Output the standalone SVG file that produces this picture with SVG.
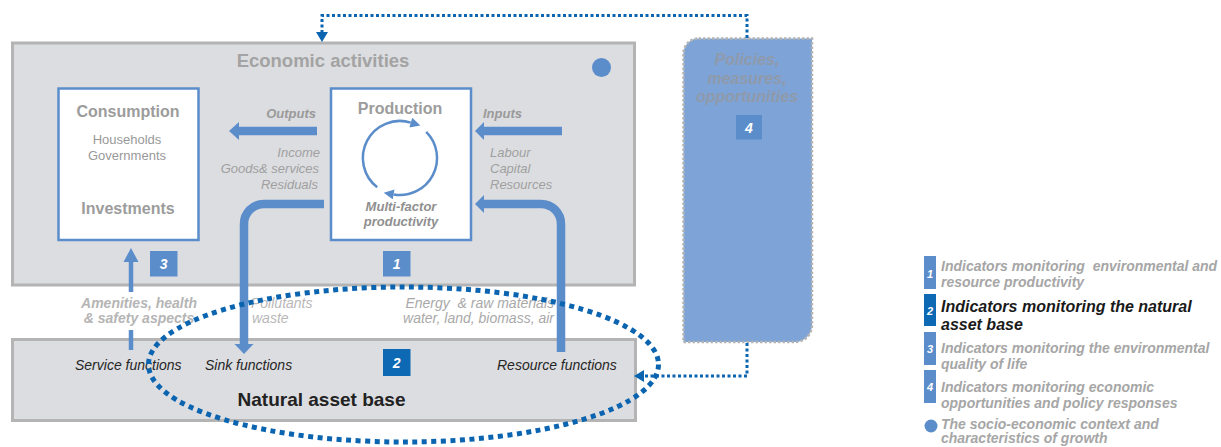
<svg xmlns="http://www.w3.org/2000/svg" width="1221" height="447" viewBox="0 0 1221 447">
<style>
text{font-family:"Liberation Sans",Arial,sans-serif}
.band{fill:#dcdde0;stroke:#b4b4b4;stroke-width:3}
.box{fill:#fff;stroke:#5b8dcb;stroke-width:2.5}
.hd{font-weight:bold;fill:#9c9c9c;font-size:16px;text-anchor:middle}
.sub{fill:#999;font-size:13px;text-anchor:middle}
.lbl{font-style:italic;fill:#a0a0a0;font-size:13px}
.lblb{font-style:italic;font-weight:bold;fill:#9a9a9a;font-size:13px}
.fn{font-style:italic;fill:#262626;font-size:14px}
.num{fill:#5b8dcb}
.numd{fill:#0e69b4}
.nt{fill:#fff;font-weight:bold;font-style:italic;font-size:14px;text-anchor:middle}
.pipe{fill:none;stroke:#5b8dcb;stroke-width:8.5}
.head{fill:#5b8dcb}
.dot{fill:none;stroke:#0b64b0;stroke-width:3;stroke-dasharray:3 2.5}
.cyc{fill:none;stroke:#5b8dcb;stroke-width:2.5}
.leg{font-style:italic;font-weight:bold;fill:#a6a6a6;font-size:14px}
.lt{fill:#fff;font-weight:bold;font-style:italic;font-size:11px;text-anchor:middle}
</style>
<defs>
<marker id="dotArrow" viewBox="0 0 10 12" refX="0" refY="6" markerWidth="10" markerHeight="12" markerUnits="userSpaceOnUse" orient="auto"><path d="M0,0 L10,6 L0,12 Z" fill="#0b64b0"/></marker>
<marker id="cycArrow" viewBox="0 0 10 10" refX="0" refY="5" markerWidth="11" markerHeight="10" markerUnits="userSpaceOnUse" orient="auto"><path d="M0,0 L10,5 L0,10 Z" fill="#5b8dcb"/></marker>
</defs>

<g id="economic-activities">
<rect class="band" x="12.5" y="43" width="622" height="242"/>
<text x="323" y="67" style="font-weight:bold;fill:#a3a3a3;font-size:18.5px;text-anchor:middle">Economic activities</text>
<circle cx="601.5" cy="67.5" r="9.5" fill="#5b8dcb"/>
</g>

<g id="natural-asset-base">
<rect class="band" x="12.5" y="339.5" width="623" height="81"/>
<text class="fn" x="75" y="369.5">Service functions</text>
<text class="fn" x="205" y="369.5">Sink functions</text>
<text class="fn" x="497" y="369.5">Resource functions</text>
<text x="321.5" y="406" style="font-weight:bold;fill:#222;font-size:19px;text-anchor:middle">Natural asset base</text>
</g>

<g id="consumption">
<rect class="box" x="58.5" y="88.5" width="140" height="151.5"/>
<text class="hd" x="128" y="116.5">Consumption</text>
<text class="sub" x="127" y="144">Households</text>
<text class="sub" x="127" y="160">Governments</text>
<text class="hd" x="128" y="214">Investments</text>
</g>

<g id="production">
<rect class="box" x="331" y="88.5" width="140" height="151.5"/>
<text class="hd" x="400" y="114">Production</text>
<path class="cyc" d="M377.2,187.2 A37,37 0 0 1 410.8,122.6" marker-end="url(#cycArrow)"/>
<path class="cyc" d="M426.2,131.8 A37,37 0 0 1 393.6,194.4" marker-end="url(#cycArrow)"/>
<text x="401" y="211" style="font-weight:bold;font-style:italic;fill:#8f8f8f;font-size:13px;text-anchor:middle">Multi-factor</text>
<text x="401" y="225.5" style="font-weight:bold;font-style:italic;fill:#8f8f8f;font-size:13px;text-anchor:middle">productivity</text>
</g>

<g id="policies">
<path d="M698.5,38.5 H812 V325 A17,17 0 0 1 795,342 H683.5 V53.5 A15,15 0 0 1 698.5,38.5 Z" fill="#7ea3d6" stroke="#b3b3b3" stroke-width="2.5" stroke-dasharray="2.5 2"/>
<text x="747" y="65" style="font-weight:bold;font-style:italic;fill:#8f9aab;font-size:16px;text-anchor:middle">Policies,</text>
<text x="747" y="83.5" style="font-weight:bold;font-style:italic;fill:#8f9aab;font-size:16px;text-anchor:middle">measures,</text>
<text x="747" y="102" style="font-weight:bold;font-style:italic;fill:#8f9aab;font-size:16px;text-anchor:middle">opportunities</text>
<rect class="num" x="736" y="115" width="26" height="24.5"/>
<text class="nt" x="749" y="132.5">4</text>
</g>

<g id="badge-1"><rect class="num" x="383" y="251" width="27.5" height="25.5"/><text class="nt" x="396.7" y="268.5">1</text></g>
<g id="badge-2"><rect class="numd" x="383" y="349" width="27.5" height="27"/><text class="nt" x="396.7" y="367.5">2</text></g>
<g id="badge-3"><rect class="num" x="150" y="251" width="27.5" height="25.5"/><text class="nt" x="163.7" y="268.5">3</text></g>

<g id="connectors">
<line class="pipe" x1="317" y1="131" x2="238" y2="131"/>
<polygon class="head" points="239,122 229,131 239,140"/>
<line class="pipe" x1="562" y1="131" x2="484" y2="131"/>
<polygon class="head" points="484,122 475,131 484,140"/>
<path class="pipe" d="M324,204 H264 A20,20 0 0 0 244,224 V345"/>
<polygon class="head" points="234.5,344 253.5,344 244,354"/>
<path class="pipe" d="M561,352 V224 A20,20 0 0 0 541,204 H484"/>
<polygon class="head" points="484,195 475,204 484,213"/>
<path d="M131,350 V330 M131,292 V261" stroke="#5b8dcb" stroke-width="4.5" fill="none"/>
<polygon class="head" points="123.5,262 138.5,262 131,248"/>
<path class="dot" d="M747,38 V15.5 H322 V32" marker-end="url(#dotArrow)"/>
<path class="dot" d="M747,343 V376 H644" marker-end="url(#dotArrow)"/>
</g>

<g id="flow-labels">
<text class="lblb" x="316" y="117.5" text-anchor="end">Outputs</text>
<text class="lbl" x="320" y="156.5" text-anchor="end">Income</text>
<text class="lbl" x="319" y="172.5" text-anchor="end">Goods&amp; services</text>
<text class="lbl" x="318" y="189" text-anchor="end">Residuals</text>
<text class="lblb" x="483" y="117.5">Inputs</text>
<text class="lbl" x="490" y="156.5">Labour</text>
<text class="lbl" x="490" y="172.5">Capital</text>
<text class="lbl" x="490" y="189">Resources</text>
<text x="139" y="307.5" style="font-style:italic;font-weight:bold;fill:#b5b5b5;font-size:14px;text-anchor:middle">Amenities, health</text>
<text x="139" y="322.5" style="font-style:italic;font-weight:bold;fill:#b5b5b5;font-size:14px;text-anchor:middle">&amp; safety aspects</text>
<text x="251" y="307.5" style="font-style:italic;fill:#b8b8b8;font-size:14px">Pollutants</text>
<text x="252" y="322.5" style="font-style:italic;fill:#b8b8b8;font-size:14px">waste</text>
<text x="554" y="307.5" style="font-style:italic;fill:#a9a9a9;font-size:14px;text-anchor:end" xml:space="preserve">Energy  &amp; raw materials</text>
<text x="554" y="322.5" style="font-style:italic;fill:#a9a9a9;font-size:14px;text-anchor:end">water, land, biomass, air</text>
</g>

<g id="asset-ellipse">
<ellipse cx="403.5" cy="364.5" rx="255" ry="77.5" fill="none" stroke="#0b64b0" stroke-width="5" stroke-dasharray="5 4.5"/>
</g>

<g id="legend">
<rect class="num" x="924" y="256" width="12" height="33"/><text class="lt" x="930" y="277.5">1</text>
<text class="leg" x="941" y="271" xml:space="preserve">Indicators monitoring  environmental and</text>
<text class="leg" x="941" y="286.5">resource productivity</text>
<rect class="numd" x="924" y="294" width="12" height="32"/><text class="lt" x="930" y="315">2</text>
<text x="941" y="311.5" style="font-style:italic;font-weight:bold;fill:#1a1a1a;font-size:16px">Indicators monitoring the natural</text>
<text x="941" y="330" style="font-style:italic;font-weight:bold;fill:#1a1a1a;font-size:16px">asset base</text>
<rect class="num" x="924" y="332" width="12" height="33"/><text class="lt" x="930" y="352.5">3</text>
<text class="leg" x="941" y="353">Indicators monitoring the environmental</text>
<text class="leg" x="941" y="369">quality of life</text>
<rect class="num" x="924" y="370" width="12" height="33"/><text class="lt" x="930" y="391">4</text>
<text class="leg" x="941" y="391.5">Indicators monitoring economic</text>
<text class="leg" x="941" y="407.5">opportunities and policy responses</text>
<circle cx="931" cy="426" r="6.5" fill="#5b8dcb"/>
<text class="leg" x="941" y="429">The socio-economic context and</text>
<text class="leg" x="941" y="443">characteristics of growth</text>
</g>
</svg>
